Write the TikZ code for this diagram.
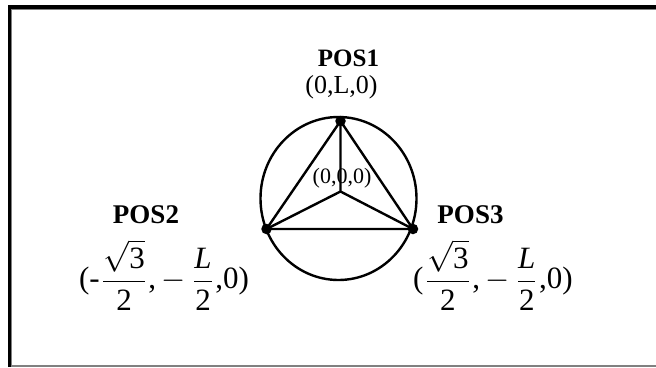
\documentclass[tikz,border=0pt]{standalone}
\usepackage{amsmath}
\usepackage{fontspec}
\setmainfont{Liberation Serif}
\newcommand{\bigform}[1]{\scalebox{3.1}{\fontsize{10}{12}\selectfont #1}}
\begin{document}
\begin{tikzpicture}[x=1pt,y=-1pt,
  lbl/.style={font=\fontsize{26}{28}\selectfont, inner sep=0pt},
  frm/.style={inner sep=0pt},
  head/.style={font=\fontsize{25}{27}\selectfont\bfseries, inner sep=0pt},
  headb/.style={font=\fontsize{27}{29}\selectfont\bfseries, inner sep=0pt},
  edge/.style={line width=2.4pt},
  dot/.style={circle, fill=black, inner sep=0pt, minimum size=10.5pt}]
\useasboundingbox (0,0) rectangle (656,367);
% frame
\draw[line width=4pt] (9.5,367) -- (9.5,7) -- (656,7);
\draw[gray, line width=1pt] (11.5,367) -- (11.5,9.7) -- (656,9.7);
\draw[gray, line width=1.2pt] (11,366) -- (656,366);
% geometry
\coordinate (c) at (338.5,198.5);
\node[dot] (p1) at (340.5,121) {};
\node[dot] (p2) at (266.5,229) {};
\node[dot] (p3) at (413,229) {};
\coordinate (o) at (340.5,191.5);
\draw[edge] (c) ellipse [x radius=78, y radius=81.5];
\draw[edge] (p1.center) -- (p2.center) -- (p3.center) -- cycle;
\draw[edge] (p1.center) -- (o) (p2.center) -- (o) -- (p3.center);
\node[lbl, font=\fontsize{22}{24}\selectfont] (olab) at (342,178.5) {(0,0,0)};
% labels
\node[head] (h1) at (348.5,58.5) {POS1};
\node[lbl] (t1) at (341.5,87.5) {(0,L,0)};
\node[headb] (h2) at (146,215) {POS2};
\node[frm] (t2) at (164,275) {\bigform{$\text{(-}\dfrac{\sqrt{\text{3}}}{\text{2}}\text{,}\,{-}\,\dfrac{\textit{L}}{\text{2}}\text{,0)}$}};
\node[headb] (h3) at (470.5,215) {POS3};
\node[frm] (t3) at (493,275) {\bigform{$\text{(}\dfrac{\sqrt{\text{3}}}{\text{2}}\text{,}\,{-}\,\dfrac{\textit{L}}{\text{2}}\text{,0)}$}};
\end{tikzpicture}
\end{document}
